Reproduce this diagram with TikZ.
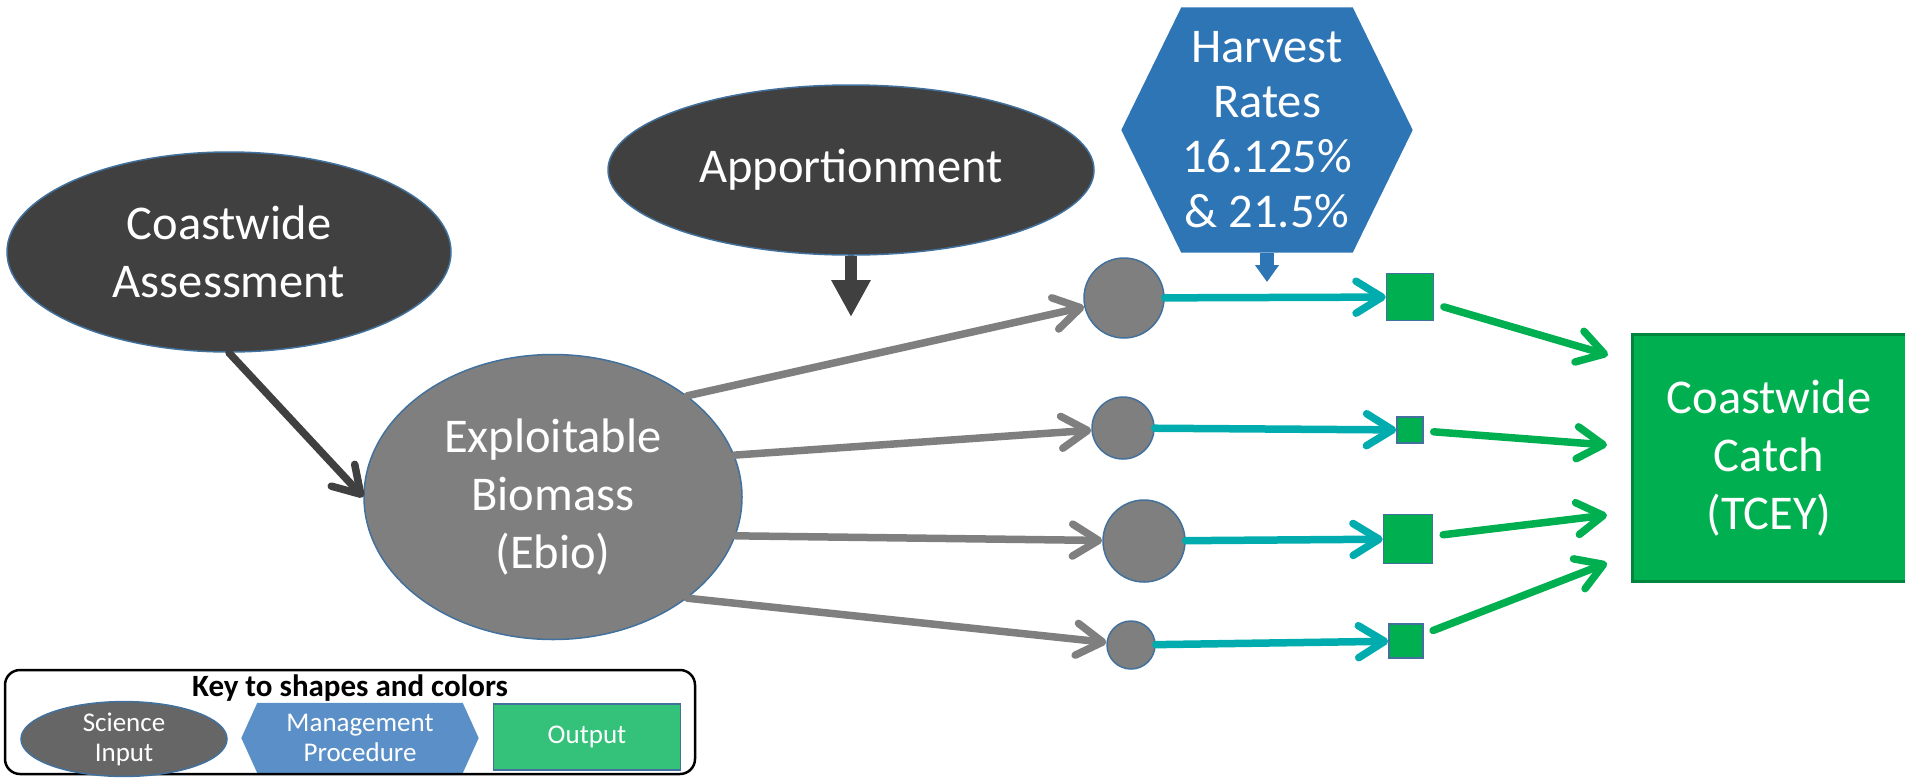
\documentclass[tikz,border=0pt]{standalone}
\usepackage{fontspec}
\setmainfont{Carlito}
\usetikzlibrary{shapes.geometric,arrows.meta,backgrounds}

\definecolor{sciencedark}{HTML}{404040}
\definecolor{biogray}{HTML}{7F7F7F}
\definecolor{edgeblue}{HTML}{41719C}
\definecolor{ratesblue}{HTML}{2E75B6}
\definecolor{outgreen}{HTML}{00B050}
\definecolor{outedge}{HTML}{00853E}
\definecolor{flowteal}{HTML}{00ACAD}
\definecolor{keygray}{HTML}{666666}
\definecolor{keyblue}{HTML}{5B8FC8}
\definecolor{keygreen}{HTML}{34C27A}

\tikzset{
    bigtext/.style={text=white, align=center, font=\fontsize{48.5}{58}\selectfont},
    keytext/.style={text=white, align=center, font=\fontsize{27}{30}\selectfont},
    science/.style={ellipse, fill=sciencedark, draw=edgeblue, line width=1.5pt, inner sep=0pt, bigtext},
    biomass/.style={ellipse, fill=biogray, draw=edgeblue, line width=1.5pt, inner sep=0pt, bigtext},
    area/.style={circle, fill=biogray, draw=edgeblue, line width=1.5pt, inner sep=0pt, minimum size=#1},
    yield/.style={rectangle, fill=outgreen, draw=edgeblue, line width=1.5pt, inner sep=0pt, minimum size=#1},
    flow/.style={line width=7.5pt, line cap=round, -{Straight Barb[length=26pt,width=32pt,round]}},
}

\begin{document}
\begin{tikzpicture}[x=1pt, y=-1pt]
    \useasboundingbox (0,0) rectangle (1905,777);

    \node [science, minimum width=444pt, minimum height=200pt] (assess) at (229,252) {Coastwide\\Assessment};
    \node [science, minimum width=486pt, minimum height=170pt] (apport) at (851,170) {Apportionment};
    \node [biomass, minimum width=378pt, minimum height=285pt] (ebio) at (553,497) {Exploitable\\Biomass\\(Ebio)};
    \node [bigtext, font=\fontsize{48.5}{55}\selectfont, minimum width=291pt, minimum height=245pt, inner sep=0pt] (rates) at (1267,130) {Harvest\\Rates\\16.125\%\\\& 21.5\%};

    \node [area=80pt] (r1) at (1124,298) {};
    \node [area=62pt] (r2) at (1123,428) {};
    \node [area=82pt] (r3) at (1144,541) {};
    \node [area=48pt] (r4) at (1131,645) {};

    \node [yield=47pt] (s1) at (1410,297) {};
    \node [yield=26pt] (s2) at (1410,430) {};
    \node [yield=49pt] (s3) at (1408,539) {};
    \node [yield=34pt] (s4) at (1406,641) {};

    \node [rectangle, fill=outgreen, draw=outedge, line width=3pt, minimum width=274pt, minimum height=247pt, bigtext] (total) at (1769,458) {Coastwide\\Catch\\(TCEY)};

    \coordinate (split) at (851,317);
    \coordinate (ratein) at (1267,282);
    \coordinate (t1) at (1608,355);
    \coordinate (t2) at (1607,445);
    \coordinate (t3) at (1607,515);
    \coordinate (t4) at (1607,563);

    \begin{scope}[on background layer]
        \fill [ratesblue] (rates.west) -- ([xshift=60pt]rates.north west) -- ([xshift=-60pt]rates.north east)
            -- (rates.east) -- ([xshift=-60pt]rates.south east) -- ([xshift=60pt]rates.south west) -- cycle;
    \end{scope}

    \draw [flow, draw=sciencedark] (assess.south) -- (ebio.west);
    \draw [sciencedark, line width=12pt, -{Triangle[length=37pt,width=37pt]}] (apport.south) -- (split);
    \draw [ratesblue, line width=14pt, -{Triangle[length=17pt,width=23pt]}] (rates.south) -- (ratein);

    \draw [flow, draw=biogray] (ebio.37) -- (r1);
    \draw [flow, draw=biogray] (ebio.13) -- (r2);
    \draw [flow, draw=biogray] (ebio.-12) -- (r3);
    \draw [flow, draw=biogray] (ebio.-37) -- (r4);

    \draw [flow, draw=flowteal] (r1) -- (s1);
    \draw [flow, draw=flowteal] (r2) -- (s2);
    \draw [flow, draw=flowteal] (r3) -- (s3);
    \draw [flow, draw=flowteal] (r4) -- (s4);

    \draw [flow, draw=outgreen, shorten <=10pt] (s1) -- (t1);
    \draw [flow, draw=outgreen, shorten <=10pt] (s2) -- (t2);
    \draw [flow, draw=outgreen, shorten <=10pt] (s3) -- (t3);
    \draw [flow, draw=outgreen, shorten <=10pt] (s4) -- (t4);

    \node [draw=black, line width=2.5pt, rounded corners=15pt, minimum width=690pt, minimum height=104pt] (keybox) at (350,722) {};
    \node [font=\bfseries\fontsize{31}{33}\selectfont, anchor=base] (keytitle) at (350,696) {Key to shapes and colors};
    \node [ellipse, fill=keygray, draw=edgeblue, line width=1.5pt, minimum width=206pt, minimum height=72pt, inner sep=0pt, keytext] (keysci) at (124,739) {Science\\Input};
    \node [keytext, minimum width=237pt, minimum height=70pt, inner sep=0pt] (keymgmt) at (360,738) {Management\\Procedure};
    \node [rectangle, fill=keygreen, draw=edgeblue, line width=1.5pt, minimum width=187pt, minimum height=66pt, keytext] (keyout) at (587,737) {Output};

    \begin{scope}[on background layer]
        \fill [keyblue] (keymgmt.west) -- ([xshift=16pt]keymgmt.north west) -- ([xshift=-16pt]keymgmt.north east)
            -- (keymgmt.east) -- ([xshift=-16pt]keymgmt.south east) -- ([xshift=16pt]keymgmt.south west) -- cycle;
    \end{scope}
\end{tikzpicture}
\end{document}
